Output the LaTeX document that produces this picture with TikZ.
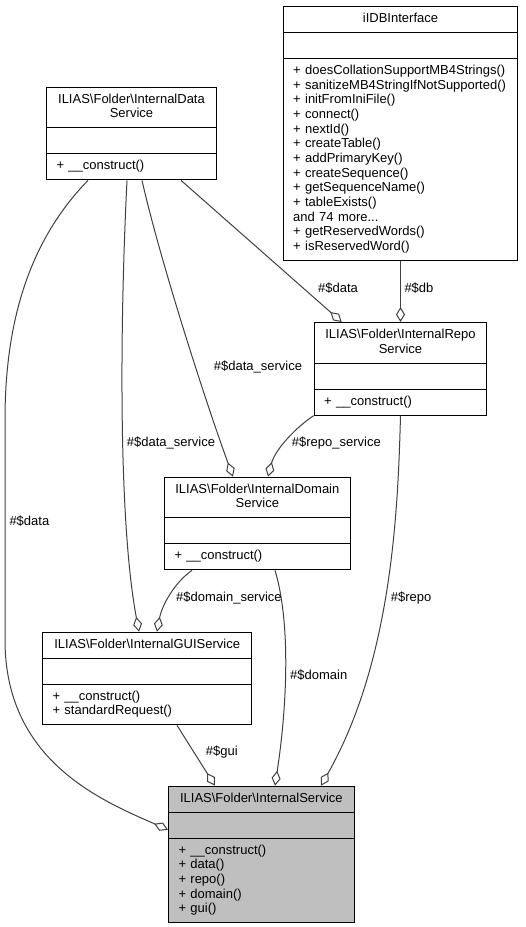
\documentclass[tikz,border=0pt]{standalone}
\usepackage{fontspec}
\setmainfont{Liberation Sans}
\usetikzlibrary{shapes.multipart,arrows.meta}
\setlength{\parindent}{0pt}
\tikzset{
  cls/.style={draw, rectangle split, rectangle split parts=3, anchor=north west,
    inner xsep=10pt, inner ysep=5.17pt, line width=1pt,
    font=\fontsize{13}{14.66}\selectfont},
  lbl/.style={anchor=west, inner sep=0pt, font=\fontsize{13}{14.66}\selectfont}
}
\begin{document}
\begin{tikzpicture}[x=1pt,y=-1pt]
      \useasboundingbox (0,0) rectangle (526,927);
      \node[cls, text width=214.6pt] (idb) at (282.7,6)
        {\centering\strut iIDBInterface\strut\par
         \nodepart{second}\strut
         \nodepart{third}\strut + doesCollationSupportMB4Strings()\\
         + sanitizeMB4StringIfNotSupported()\\
         + initFromIniFile()\\
         + connect()\\
         + nextId()\\
         + createTable()\\
         + addPrimaryKey()\\
         + createSequence()\\
         + getSequenceName()\\
         + tableExists()\\
         and 74 more...\\
         + getReservedWords()\\
         + isReservedWord()\strut};
      \node[cls, text width=150pt] (data) at (46,86.7)
        {\centering\strut ILIAS\textbackslash Folder\textbackslash InternalData\\Service\strut\par
         \nodepart{second}\strut
         \nodepart{third}\strut + \_\_construct()\strut};
      \node[cls, text width=152.6pt] (repo) at (313.7,322)
        {\centering\strut ILIAS\textbackslash Folder\textbackslash InternalRepo\\Service\strut\par
         \nodepart{second}\strut
         \nodepart{third}\strut + \_\_construct()\strut};
      \node[cls, text width=165.7pt] (domain) at (164,476.7)
        {\centering\strut ILIAS\textbackslash Folder\textbackslash InternalDomain\\Service\strut\par
         \nodepart{second}\strut
         \nodepart{third}\strut + \_\_construct()\strut};
      \node[cls, text width=189.3pt] (gui) at (42,631.7)
        {\centering\strut ILIAS\textbackslash Folder\textbackslash InternalGUIService\strut\par
         \nodepart{second}\strut
         \nodepart{third}\strut + \_\_construct()\\
         + standardRequest()\strut};
      \node[cls, fill=black!25, text width=165.7pt] (internal) at (168,785.7)
        {\centering\strut ILIAS\textbackslash Folder\textbackslash InternalService\strut\par
         \nodepart{second}\strut
         \nodepart{third}\strut + \_\_construct()\\
         + data()\\
         + repo()\\
         + domain()\\
         + gui()\strut};
      \begin{scope}[-{Diamond[open,length=15pt,width=9pt]}, line width=1pt, draw=black!75]
        \draw ([xshift=42pt]data.south west) .. controls (30,240) and (5,320) .. (5,420)
          -- (5,640) .. controls (5,760) and (100,800) .. ([yshift=-44pt]internal.north west);
        \draw ([xshift=81pt]data.south west) .. controls (120,320) and (118,520) .. ([xshift=97pt]gui.north west);
        \draw ([xshift=96pt]data.south west) .. controls (160,260) and (205,400) .. ([xshift=69pt]domain.north west);
        \draw ([xshift=135pt]data.south west) -- ([xshift=28pt]repo.north west);
        \draw (idb.south) -- (repo.north);
        \draw (repo.south west) .. controls (295,428) and (275,450) .. ([xshift=104pt]domain.north west);
        \draw (repo.south) .. controls (398,510) and (392,660) .. ([xshift=153pt]internal.north west);
        \draw ([xshift=28pt]domain.south west) .. controls (175,582) and (162,605) .. ([xshift=115pt]gui.north west);
        \draw ([xshift=111pt]domain.south west) .. controls (290,620) and (288,700) .. ([xshift=107pt]internal.north west);
        \draw ([xshift=135pt]gui.south west) -- ([xshift=47pt]internal.north west);
      \end{scope}
      \node[lbl] (ldata) at (9.3,520.7) {\#\$data};
      \node[lbl] (ldsleft) at (126.7,443.3) {\#\$data\_service};
      \node[lbl] (ldsright) at (213.7,366.7) {\#\$data\_service};
      \node[lbl] (ldatarepo) at (318,288.3) {\#\$data};
      \node[lbl] (ldb) at (404.3,288.3) {\#\$db};
      \node[lbl] (lrs) at (291.7,443.3) {\#\$repo\_service};
      \node[lbl] (lrepo) at (390.7,598.3) {\#\$repo};
      \node[lbl] (lds) at (176,598.3) {\#\$domain\_service};
      \node[lbl] (ldomain) at (290,675) {\#\$domain};
      \node[lbl] (lgui) at (205.7,752.3) {\#\$gui};
    \end{tikzpicture}
\end{document}
